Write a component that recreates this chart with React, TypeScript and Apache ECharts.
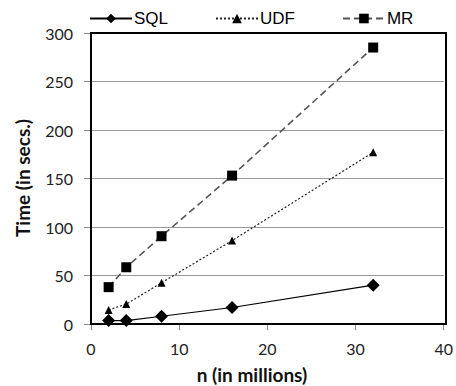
import React, { useEffect, useRef } from "react";
import * as echarts from "echarts";

const xValues = [2, 4, 8, 16, 32];
const sqlValues = [3.5, 3.5, 8, 17, 40];
const udfValues = [14.5, 20.5, 42.5, 86, 177];
const mrValues = [38, 58.5, 90.5, 153, 285];
const seriesNames = ["SQL", "UDF", "MR"];

const pair = (vals: number[]) => xValues.map((x, i) => [x, vals[i]]);

export default function App() {
  const ref = useRef<HTMLDivElement>(null);
  useEffect(() => {
    document.body.style.margin = "0";
    if (!ref.current) return;
    const chart = echarts.init(ref.current, null, { renderer: "svg" });
    const axisFont = { fontFamily: "Lato", fontSize: 16, color: "#222" };
    chart.setOption({
      animation: false,
      backgroundColor: "#fff",
      legend: {
        top: 5,
        left: 84,
        itemWidth: 42,
        itemHeight: 12,
        itemGap: 47,
        textStyle: { fontFamily: "Liberation Sans", fontSize: 17, color: "#000", padding: [0, 0, 0, -3] },
        data: seriesNames,
      },
      grid: {
        left: 91,
        right: 10,
        top: 33,
        bottom: 62,
      },
      xAxis: {
        type: "value",
        min: 0,
        max: 40,
        interval: 10,
        axisLine: { show: true, lineStyle: { color: "#000", width: 2 } },
        axisTick: { show: true, length: 6, lineStyle: { color: "#888" } },
        splitLine: { show: false },
        axisLabel: { ...axisFont, margin: 16 },
      },
      yAxis: {
        type: "value",
        min: 0,
        max: 300,
        interval: 50,
        axisLine: { show: true, lineStyle: { color: "#000", width: 2 } },
        axisTick: { show: true, length: 7, lineStyle: { color: "#888" } },
        splitLine: { show: true, lineStyle: { color: "#999", width: 1 } },
        axisLabel: { ...axisFont, margin: 18 },
      },
      graphic: [
        {
          type: "rect",
          shape: { x: 91, y: 33, width: 355, height: 291 },
          style: { fill: "none", stroke: "#000", lineWidth: 2 },
          z: 1,
        },
        {
          type: "text",
          x: 252,
          y: 374,
          style: {
            text: "n (in millions)",
            fontFamily: "Lato",
            fontWeight: "bold",
            fontSize: 19,
            fill: "#111",
            align: "center",
            verticalAlign: "middle",
          },
        },
        {
          type: "text",
          x: 22,
          y: 178,
          rotation: Math.PI / 2,
          style: {
            text: "Time (in secs.)",
            fontFamily: "Lato",
            fontWeight: "bold",
            fontSize: 19,
            fill: "#111",
            align: "center",
            verticalAlign: "middle",
          },
        },
      ],
      series: [
        {
          name: "SQL",
          type: "line",
          data: pair(sqlValues),
          symbol: "diamond",
          symbolSize: 13,
          itemStyle: { color: "#000" },
          lineStyle: { color: "#000", width: 1.2, type: "solid" },
        },
        {
          name: "UDF",
          type: "line",
          data: pair(udfValues),
          symbol: "triangle",
          symbolSize: 8,
          itemStyle: { color: "#000" },
          lineStyle: { color: "#222", width: 1.2, type: [2, 2] },
        },
        {
          name: "MR",
          type: "line",
          data: pair(mrValues),
          symbol: "rect",
          symbolSize: 10,
          itemStyle: { color: "#000" },
          lineStyle: { color: "#555", width: 1.6, type: [7, 4] },
        },
      ],
    });
    return () => chart.dispose();
  }, []);
  return <div ref={ref} style={{ width: 456, height: 386 }} />;
}
